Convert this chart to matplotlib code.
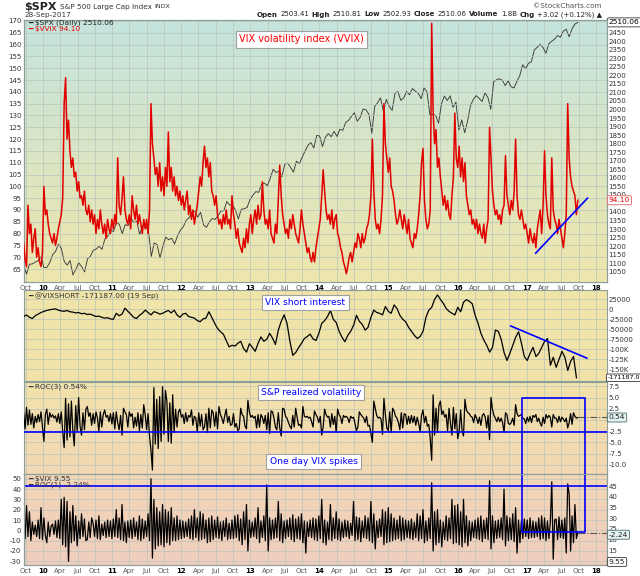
import numpy as np
import matplotlib.pyplot as plt
from matplotlib.transforms import blended_transform_factory as blend

plt.rcParams['axes.unicode_minus'] = False

# ---- data (Oct 2009 .. Sep 2017) ----
# $VVIX, about weekly (4 per month)
vvix = [
    76, 69, 66, 92,  80, 84, 72, 78,  82, 70, 74, 68,            # 2009 Q4
    66, 72, 100, 88,  90, 84, 80, 78,  76, 80, 75, 78,           # 2010
    82, 85, 88, 95,  135, 146, 120, 128,  115, 108, 112, 104,
    106, 98, 102, 95,  96, 92, 98, 90,  88, 92, 85, 90,
    84, 88, 80, 86,  82, 90, 84, 80,  84, 78, 86, 82,
    80, 86, 82, 88,  84, 112, 92, 88,  95, 104, 90, 86,          # 2011
    84, 88, 82, 96,  90, 86, 92, 84,  88, 84, 80, 86,
    82, 86, 80, 90,  135, 118, 112, 105,  108, 100, 110, 98,
    104, 96, 108, 100,  123, 102, 108, 98,  104, 96, 100, 94,
    98, 92, 96, 90,  94, 98, 88, 92,  86, 90, 84, 88,            # 2012
    92, 98, 104, 100,  110, 117, 108, 112,  104, 110, 98, 96,
    92, 96, 88, 84,  86, 82, 88, 84,  90, 84, 86, 82,
    96, 88, 84, 78,  82, 76, 74, 72,  78, 74, 82, 76,
    84, 88, 80, 86,  90, 84, 92, 86,  88, 102, 90, 84,           # 2013
    86, 82, 90, 80,  78, 76, 84, 80,  94, 109, 96, 88,
    84, 80, 82, 78,  86, 82, 88, 84,  80, 78, 76, 82,
    90, 84, 80, 76,  72, 74, 70, 68,  72, 68, 74, 78,
    82, 86, 96, 107,  98, 90, 86, 88,  84, 90, 82, 86,           # 2014
    88, 80, 78, 74,  72, 68, 66, 63,  66, 70, 72, 68,
    72, 76, 74, 80,  78, 74, 80, 76,  78, 82, 84, 88,
    96, 120, 98, 86,  82, 84, 80, 86,  96, 135, 118, 112,
    106, 112, 100, 98,  94, 88, 84, 86,  90, 86, 82, 88,         # 2015
    84, 80, 86, 78,  76, 74, 80, 78,  82, 88, 96, 110,
    116, 94, 86, 82,  84, 90, 169, 132,  118, 124, 108, 112,
    104, 98, 92, 96,  90, 94, 88, 86,  96, 104, 131, 112,
    108, 117, 104, 112,  102, 110, 96, 92,  88, 90, 84, 86,      # 2016
    82, 86, 80, 84,  80, 78, 84, 76,  82, 86, 125, 112,
    98, 92, 88, 90,  86, 88, 84, 90,  92, 113, 96, 92,
    88, 94, 90, 98,  120, 96, 88, 86,  90, 86, 82, 84,
    80, 76, 82, 78,  76, 80, 74, 82,  86, 90, 80, 92,            # 2017
    115, 96, 88, 84,  82, 112, 90, 86,  84, 80, 86, 82,
    78, 74, 80, 88,  135, 112, 104, 100,  98, 96, 88, 94.10,
]

# $SPX, about twice a month
spx = [
    1090, 1036, 1094, 1096, 1106, 1115,                                  # 2009 Q4
    1137, 1074, 1075, 1104, 1150, 1169, 1212, 1187, 1110, 1089, 1116, 1031,
    1065, 1102, 1080, 1049, 1125, 1141, 1176, 1183, 1199, 1181, 1242, 1258,
    1293, 1286, 1340, 1327, 1273, 1326, 1320, 1364, 1338, 1345, 1268, 1321,
    1316, 1292, 1140, 1219, 1209, 1131, 1200, 1253, 1237, 1247, 1212, 1258,
    1293, 1312, 1351, 1366, 1395, 1408, 1370, 1398, 1324, 1310, 1342, 1362,
    1356, 1379, 1405, 1407, 1461, 1441, 1440, 1412, 1359, 1416, 1419, 1426,
    1472, 1498, 1519, 1515, 1563, 1569, 1553, 1598, 1650, 1631, 1639, 1606,
    1680, 1686, 1661, 1633, 1697, 1682, 1721, 1757, 1791, 1806, 1775, 1848,
    1845, 1783, 1838, 1859, 1841, 1872, 1842, 1884, 1878, 1924, 1937, 1960,
    1981, 1931, 1955, 2003, 1998, 1972, 1862, 2018, 2039, 2068, 1990, 2059,
    2019, 1995, 2096, 2105, 2053, 2068, 2106, 2086, 2123, 2107, 2096, 2063,
    2126, 2104, 1971, 1972, 1966, 1920, 2033, 2079, 2053, 2080, 2012, 2044,
    1880, 1940, 1864, 1932, 2022, 2060, 2081, 2065, 2047, 2097, 2071, 2001,
    2163, 2174, 2180, 2171, 2140, 2168, 2133, 2126, 2164, 2199, 2262, 2239,
    2271, 2279, 2349, 2364, 2381, 2363, 2329, 2384, 2400, 2412, 2433, 2423,
    2459, 2470, 2426, 2472, 2500, 2510.06,
]

# @VIXSHORT in thousands, about twice a month
vixshort_k = [
    -18, -14, -20, -23, -16, -12,                                        # 2009 Q4
    -8, -5, -3, -1, 0, 1, -2, -4, -5, -3, -6, -7,
    -9, -8, -11, -10, -13, -12, -15, -18, -17, -20, -22, -21,
    -24, -25, -10, -16, -12, 3, -5, -12, -20, -23, -15, -10,
    -2, -8, -14, -6, -8, -12, -10, -6, -3, -9, -2, -14,
    -20, -12, -10, -18, -20, -22, -28, -31, -24, -22, -6, -20,
    -35, -48, -56, -62, -78, -94, -90, -92, -85, -80, -98, -107,
    -86, -95, -105, -85, -69, -80, -75, -60, -72, -88, -52, -30,
    -14, -35, -80, -115, -108, -96, -85, -73, -68, -62, -74, -78,
    -60, -35, -28, -18, -3, -25, -33, -55, -70, -81, -65, -55,
    -40, -15, -30, -38, -52, -45, -20, -2, -8, -10, -14, 7,
    -5, -10, 11, 2, -15, -25, -31, -45, -55, -65, -73, -68,
    -55, -20, -2, 5, 25, 36, 25, 15, 2, -5, -10, -14,
    5, -6, 18, 24, 20, 14, -15, -35, -60, -77, -90, -107,
    -95, -52, -55, -75, -108, -128, -110, -90, -70, -56, -85, -118,
    -128, -110, -95, -118, -110, -95, -80, -73, -140, -120, -145, -125,
    -105, -120, -153, -130, -118, -171.187,
]

# ROC(3) of $SPX, about weekly
roc3 = [
    1.5, -2.0, 2.8, -1.2,  2.2, -1.0, 1.4, -1.8,  0.8, -0.6, 1.2, -0.4,
    1.8, -1.5, -4.8, 1.2,  2.4, -1.0, 1.6, 0.6,  1.2, 0.4, 0.9, -0.5,
    1.4, -0.8, 1.8, -2.6,  -6.2, 4.8, -4.5, 3.6,  -3.8, 4.2, -2.4, -5.8,
    3.2, -2.6, 5.0, -1.4,  -3.4, 1.6, -2.2, 2.4,  3.0, 0.8, 1.6, -1.2,
    1.4, -0.8, 1.8, 0.4,  -2.6, 1.8, -1.6, 1.2,  2.2, 0.6, 1.0, -0.4,
    1.4, -0.9, 1.6, -2.0,  1.8, -0.6, -2.2, 1.0,  -3.4, 2.6, 1.8, 1.2,
    -1.6, 1.8, 0.8, 1.4,  -1.8, 0.6, -1.4, 1.6,  -2.4, 1.2, -1.8, 3.4,
    1.2, -2.2, 1.4, -3.6,  -6.8, -11.2, 7.2, -5.4,  4.6, -6.4, 5.2, -4.8,
    7.4, -3.2, 6.6, 4.2,  -4.8, 3.8, -5.2, 5.6,  -2.8, 2.4, -1.6, 1.8,
    2.4, 0.6, 1.2, -0.8,  1.6, -0.4, 1.0, 0.6,  2.2, -1.2, 0.8, 0.4,
    -2.6, 1.6, -1.4, 1.2,  -2.2, -1.6, 1.4, -2.8,  2.6, -1.8, 2.2, 1.6,
    -1.4, 1.8, -2.0, 3.0,  1.2, 0.4, -0.8, 1.0,  2.4, -0.6, 0.8, -1.2,
    -1.0, 1.4, -1.6, -0.8,  -2.4, -2.0, 2.6, 1.2,  0.8, -1.4, -2.0, 4.4,
    1.8, 0.6, 1.0, 0.4,  0.8, -1.8, 1.2, -1.6,  1.2, 0.6, -0.8, 1.0,
    -2.2, 1.6, -3.0, 2.0,  1.8, 0.4, -1.6, -2.2,  1.6, -1.8, -3.6, 2.6,
    2.4, 0.8, 0.4, -0.6,  -1.4, -2.0, 1.0, -1.6,  2.6, 0.6, -1.2, -1.0,
    -1.8, 3.0, 0.8, 0.6,  0.8, 0.4, 0.6, -0.4,  -1.6, 2.0, 1.2, 0.6,
    -0.6, 0.8, -3.4, -1.6,  2.4, 1.2, 0.6, 0.8,  -1.6, 1.4, -1.0, 0.8,
    -2.8, 2.4, 1.2, 0.6,  -0.8, 1.0, 0.6, 0.8,  0.4, -0.6, 0.8, 0.4,
    0.6, -0.8, -2.4, -1.6,  1.8, 1.2, 0.8, 0.4,  -0.6, 0.8, -1.4, -1.2,
    -3.0, -5.0, 4.2, 2.6,  1.0, 0.4, 0.6, 0.2,  -3.2, 4.8, 1.2, -1.8,
    -2.4, 1.8, -2.8, 2.6,  2.0, 0.8, 0.4, -0.6,  -2.2, 1.6, -1.8, 1.4,
    1.2, -1.0, 0.8, -0.8,  1.0, -0.6, 0.8, -1.2,  0.6, -0.8, -2.6, 1.0,
    2.2, -0.6, 0.8, -1.4,  -1.0, -4.2, -9.0, 5.6,  -3.4, 2.6, -2.8, 3.2,
    4.2, 1.2, 2.0, 0.6,  1.2, -2.4, 2.6, -0.8,  -3.4, 2.8, -2.0, 1.4,
    -4.2, -2.6, 2.2, -2.4,  -3.6, 4.6, 2.2, 1.6,  1.4, 0.8, 0.6, -0.6,
    1.2, 0.4, -0.8, 0.6,  -1.2, 1.0, 1.4, 0.6,  -1.8, 1.0, -4.4, 5.0,
    2.4, 1.0, 0.4, -0.4,  0.6, -0.4, 0.4, -0.6,  -2.8, 1.6, 1.2, -0.8,
    -1.0, -0.6, 0.4, -1.2,  3.4, 1.4, 0.8, 1.0,  1.2, 0.4, 0.2, -0.8,
    0.6, -0.4, 0.8, -0.6,  1.0, 0.6, 1.2, -0.4,  0.4, -0.8, -1.4, 0.6,
    -0.8, 1.2, 0.4, 1.0,  0.6, -1.6, 1.2, 0.4,  0.4, -0.6, 0.8, -0.4,
    0.6, 0.2, -0.4, 0.4,  -1.8, -0.6, 1.4, -1.0,  1.6, 0.8, 0.4, 0.54,
]

# ROC(1) of $VIX, about weekly
roc1 = [
    6, -8, 24, -6,  18, -10, 8, -4,  5, -6, 10, -8,
    22, -9, 12, -5,  -12, 8, -6, 4,  6, -4, 9, -7,
    10, -8, 30, -14,  32, -16, 28, -30,  18, -12, 24, -10,
    14, -15, 9, -8,  16, -6, 11, -10,  -9, 8, -7, 12,
    7, -6, 10, -8,  14, -9, 6, -5,  8, -7, 10, -6,
    9, -8, 11, -6,  20, -7, 12, -9,  25, -10, 8, -12,
    9, -7, 10, -8,  12, -6, 8, -9,  14, -10, 11, -8,
    9, -6, 16, -10,  50, -27, 30, -18,  22, -15, 18, -14,
    25, -16, 20, -12,  18, -14, 22, -10,  12, -10, 14, -9,
    10, -8, 9, -7,  8, -6, 11, -8,  14, -9, 20, -7,
    12, -10, 18, -9,  16, -8, 10, -12,  12, -11, 14, -9,
    10, -7, 13, -8,  8, -10, 9, -6,  12, -9, 7, -8,
    10, -8, 14, -7,  15, -10, 11, -14,  18, -9, 25, -20,
    10, -7, 8, -6,  12, -8, 22, -12,  9, -7, 14, -10,
    44, -20, 12, -9,  10, -8, 12, -7,  28, -10, 16, -12,
    9, -8, 10, -6,  12, -9, 15, -11,  11, -8, 13, -9,
    16, -12, 9, -22,  8, -6, 10, -7,  12, -9, 11, -10,
    14, -8, 30, -12,  10, -14, 8, -9,  25, -10, 12, -8,
    18, -9, 11, -10,  8, -7, 10, -6,  9, -8, 7, -5,
    28, -10, 13, -9,  12, -11, 9, -7,  14, -8, 12, -10,
    28, -12, 16, -18,  9, -7, 11, -6,  20, -14, 18, -12,
    22, -11, 16, -10,  12, -9, 10, -8,  14, -10, 12, -9,
    10, -7, 9, -8,  11, -9, 8, -7,  16, -10, 14, -8,
    20, -12, 9, -10,  12, -8, 46, -20,  18, -14, 20, -12,
    10, -16, 8, -9,  14, -10, 12, -8,  30, -13, 24, -12,
    25, -14, 18, -16,  30, -12, 14, -15,  9, -10, 8, -7,
    10, -8, 12, -9,  14, -11, 10, -8,  12, -9, 48, -18,
    14, -12, 9, -8,  10, -7, 12, -9,  40, -15, 14, -10,
    12, -9, 16, -11,  22, -22, 10, -12,  9, -8, 11, -6,
    10, -8, 12, -7,  9, -7, 8, -6,  12, -9, 14, -8,
    12, -10, 9, -8,  8, 47, -28, 10,  11, -9, 13, -7,
    10, -8, 12, -22,  45, 35, -20, 14,  -12, 25, -8, -2.24,
]

vix_last = 9.55

# hand drawn annotations
vvix_trend_dates = [2017.13, 2017.88]
vvix_trend_vals = [71.7, 95.0]
short_trend_dates = [2016.77, 2017.87]
short_trend_vals = [-41700, -122000]
roc3_level = -2.75
roc1_level = 42.6
box_dates = [2016.93, 2017.84]
box_top_roc3 = 5.0
box_bottom_roc1 = -1.6

first_date, last_date = 2009.72, 2017.74
x_min, x_max = 2009.718, 2018.155

t_week = np.linspace(first_date, last_date, len(vvix))
t_half = np.linspace(first_date, last_date, len(spx))
t_short = np.linspace(first_date, 2017.72, len(vixshort_k))
vixshort = np.array(vixshort_k) * 1000

W, H = 640, 576
fig = plt.figure(figsize=(6.4, 5.76), dpi=100)
fig.patch.set_facecolor('white')

L, WD = 23.5 / W, 583 / W


def box(top, bottom):
    return [L, 1 - bottom / H, WD, (bottom - top) / H]


ax1r = fig.add_axes(box(20, 282))
ax1 = ax1r.twinx()
ax2 = fig.add_axes(box(290, 380.7))
ax3 = fig.add_axes(box(382, 474.3))
ax4 = fig.add_axes(box(474.3, 565))
ax4r = ax4.twinx()


def paint(ax, top, bottom):
    top = np.array(top) / 255
    bottom = np.array(bottom) / 255
    f = np.linspace(0, 1, 64)[:, None, None]
    img = top * (1 - f) + bottom * f
    ax.imshow(img, extent=(0, 1, 0, 1), transform=ax.transAxes,
              aspect='auto', zorder=0, interpolation='bilinear')


paint(ax1r, (196, 228, 222), (238, 230, 172))
paint(ax2, (240, 229, 168), (240, 226, 170))
paint(ax3, (242, 226, 170), (242, 216, 180))
paint(ax4, (242, 214, 182), (240, 205, 190))

# ---- panel 1: VVIX + SPX ----
ax1.set_zorder(ax1r.get_zorder() + 1)
ax1.patch.set_visible(False)
ax1r.plot(t_half, spx, color='#3a3a3a', lw=0.65, zorder=3)
ax1.plot(t_week, vvix, color='#e10000', lw=1.1, zorder=3)
ax1.plot(vvix_trend_dates, vvix_trend_vals, color='#0000ff', lw=1.2, zorder=4)
ax1.set_ylim(59.5, 170.4)
ax1r.set_ylim(990, 2524)

# ---- panel 2: VIX short interest ----
ax2.plot(t_short, vixshort, color='black', lw=0.9, zorder=3)
ax2.plot(short_trend_dates, short_trend_vals, color='#0000ff', lw=1.2, zorder=4)
ax2.set_ylim(-178500, 48300)

# ---- panel 3: ROC(3) ----
ax3.plot(t_week, roc3, color='black', lw=0.9, zorder=3)
ax3.axhline(roc3_level, color='#0000ff', lw=1.2, zorder=4)
ax3.plot([t_week[-1], x_max], [roc3[-1], roc3[-1]], color='#555555', lw=0.8, ls='-.', zorder=3)
ax3.set_ylim(-12.14, 8.46)

# ---- panel 4: ROC(1) of VIX ----
ax4.plot(t_week, roc1, color='black', lw=0.9, zorder=3)
ax4.axhline(roc1_level, color='#0000ff', lw=1.2, zorder=4)
ax4.plot([t_week[-1], x_max], [roc1[-1], roc1[-1]], color='#555555', lw=0.8, ls='-.', zorder=3)
ax4.set_ylim(-33.6, 54.3)
ax4r.set_ylim(8.1, 50.6)

# blue rectangle spanning panels 3 and 4
x0, x1 = box_dates
lo3 = ax3.get_ylim()[0]
hi4 = ax4.get_ylim()[1]
ax3.plot([x0, x0, x1, x1], [lo3, box_top_roc3, box_top_roc3, lo3],
         color='#0000ff', lw=1.2, zorder=5, clip_on=False)
ax4.plot([x0, x0, x1, x1], [hi4, box_bottom_roc1, box_bottom_roc1, hi4],
         color='#0000ff', lw=1.2, zorder=5, clip_on=False)

# ---- axes styling ----
quarters = np.arange(2009.75, 2018.01, 0.25)
month_names = {0.0: None, 0.25: 'Apr', 0.5: 'Jul', 0.75: 'Oct'}
qlabels = []
for q in quarters:
    frac = round(q - np.floor(q), 2)
    qlabels.append(month_names[frac] or '%02d' % (int(round(q)) % 100))

grid_kw = dict(color='#b9c4bc', lw=0.5)
for ax in (ax1r, ax1, ax2, ax3, ax4, ax4r):
    ax.set_xlim(x_min, x_max)
    ax.tick_params(length=0, labelsize=5, colors='#333333', pad=1.5)
    for s in ax.spines.values():
        s.set_color('#8e9e9a')
        s.set_linewidth(0.8)

for ax in (ax1r, ax2, ax3, ax4):
    ax.set_xticks(quarters)
    ax.grid(True, axis='x', zorder=1, **grid_kw)
for ax in (ax1, ax2, ax3, ax4):
    ax.grid(True, axis='y', zorder=1, **grid_kw)
    ax.set_axisbelow(True)

for ax in (ax1r, ax4):
    ax.set_xticklabels(qlabels)
    ax.tick_params(axis='x', pad=2.5)
    for lab, txt in zip(ax.get_xticklabels(), qlabels):
        if txt.isdigit():
            lab.set_fontweight('bold')
            lab.set_color('black')
        else:
            lab.set_color('#555555')
for ax in (ax2, ax3):
    ax.tick_params(axis='x', labelbottom=False)

# y ticks
ax1.yaxis.tick_left()
ax1.set_yticks(np.arange(65, 171, 5))
spx_ticks = np.arange(1050, 2451, 50)
ax1r.yaxis.tick_right()
ax1r.set_yticks(spx_ticks)
# 1450 sits under the VVIX last-value tag
ax1r.set_yticklabels(['' if v == 1450 else str(v) for v in spx_ticks])

short_ticks = [25000, 0, -25000, -50000, -75000, -100000, -125000, -150000]
ax2.yaxis.tick_right()
ax2.set_yticks(short_ticks)
ax2.set_yticklabels(['25000', '0', '-25000', '-50000', '-75000', '-100K', '-125K', '-150K'])

roc3_ticks = [7.5, 5.0, 2.5, 0.0, -2.5, -5.0, -7.5, -10.0]
ax3.yaxis.tick_right()
ax3.set_yticks(roc3_ticks)
# the 0.0 label sits under the last-value tag
ax3.set_yticklabels(['' if v == 0 else '%.1f' % v for v in roc3_ticks])

ax4.yaxis.tick_left()
ax4.set_yticks(np.arange(-30, 51, 10))
ax4r.yaxis.tick_right()
ax4r.set_yticks(np.arange(15, 46, 5))

# ---- in-panel legends ----
fs = 5.3
ax1.text(0.008, 0.988, '\u2501 $SPX (Daily) 2510.06', transform=ax1.transAxes,
         fontsize=fs, color='#222222', va='center', zorder=6)
ax1.text(0.008, 0.964, '\u2501 $VVIX 94.10', transform=ax1.transAxes,
         fontsize=fs, color='#e10000', va='center', zorder=6)
ax2.text(0.008, 0.934, '\u2501 @VIXSHORT -171187.00 (19 Sep)', transform=ax2.transAxes,
         fontsize=fs, color='#333333', va='center', zorder=6)
ax3.text(0.008, 0.946, '\u2501 ROC(3) 0.54%', transform=ax3.transAxes,
         fontsize=fs, color='#333333', va='center', zorder=6)
ax4.text(0.008, 0.95, '\u2501 $VIX 9.55', transform=ax4.transAxes,
         fontsize=fs, color='#333333', va='center', zorder=6)
ax4.text(0.008, 0.88, '\u2501 ROC(1) -2.24%', transform=ax4.transAxes,
         fontsize=fs, color='#333333', va='center', zorder=6)

# ---- annotation boxes ----
note_box = dict(boxstyle='square,pad=0.35', fc='white', ec='#a0a0a0', lw=0.8)
ax1.text(0.370, 0.927, 'VIX volatility index (VVIX)', transform=ax1.transAxes,
         fontsize=7, color='#ff0000', va='center', bbox=note_box, zorder=7)
ax2.text(0.415, 0.862, 'VIX short interest', transform=ax2.transAxes,
         fontsize=6.6, color='#0000ff', va='center', bbox=note_box, zorder=7)
ax3.text(0.407, 0.885, 'S&P realized volatility', transform=ax3.transAxes,
         fontsize=6.6, color='#0000ff', va='center', bbox=note_box, zorder=7)
ax3.text(0.422, 0.14, 'One day VIX spikes', transform=ax3.transAxes,
         fontsize=6.6, color='#0000ff', va='center', bbox=note_box, zorder=7)


# ---- last value tags on the right ----
def tag(ax, data_ax, y, s, color='#222222', ec='#4a6a6a', fc='#e4f2f2', dy=0, size=5.4, x=1.004):
    ax.annotate(s, xy=(x, y), xycoords=blend(ax.transAxes, data_ax.transData),
                xytext=(0, dy), textcoords='offset points', fontsize=size,
                color=color, va='center', ha='left', annotation_clip=False, zorder=8,
                bbox=dict(boxstyle='round,pad=0.2', fc=fc, ec=ec, lw=0.6))


tag(ax1r, ax1r, spx[-1], '2510.06', color='black', fc='white', ec='#333333')
tag(ax1, ax1, vvix[-1], '94.10', color='#e10000', fc='white', ec='#e06060')
tag(ax2, ax2, vixshort[-1], '-171187.0', color='black', fc='white', ec='#333333',
    size=4.6, x=1.002)
tag(ax3, ax3, roc3[-1], '0.54')
tag(ax4r, ax4, roc1[-1], '-2.24', dy=-1.5)
tag(ax4r, ax4r, vix_last, '9.55', fc='white', ec='#333333')

# ---- header ----
renderer = fig.canvas.get_renderer()


def run(x, y, parts, gap=3.0):
    for s, size, w, c in parts:
        t = fig.text(x / W, 1 - y / H, s, fontsize=size, fontweight=w, color=c, va='center')
        x += t.get_window_extent(renderer).width + gap
    return x


run(24, 6.5, [('$SPX', 8, 'bold', '#222222'),
              ('S&P 500 Large Cap Index', 5.2, 'normal', '#333333'),
              ('INDX', 4.5, 'normal', '#333333')])
fig.text(24 / W, 1 - 14.5 / H, '28-Sep-2017', fontsize=5.2, color='#333333', va='center')
fig.text(602 / W, 1 - 6.5 / H, '\u00a9StockCharts.com', fontsize=5.2, color='#555555',
         va='center', ha='right')

bar = [('Open', 'bold'), ('2503.41', 'normal'), ('High', 'bold'), ('2510.81', 'normal'),
       ('Low', 'bold'), ('2502.93', 'normal'), ('Close', 'bold'), ('2510.06', 'normal'),
       ('Volume', 'bold'), ('1.8B', 'normal'), ('Chg', 'bold'),
       ('+3.02 (+0.12%) \u25b2', 'normal')]
bar_parts = [(s, 5.0, w, '#222222') for s, w in bar]
# measure first, then right-align the run at x = 602 px
probe = [fig.text(0, 0, s, fontsize=sz, fontweight=w) for s, sz, w, c in bar_parts]
total = sum(p.get_window_extent(renderer).width for p in probe) + 2.5 * (len(probe) - 1)
for p in probe:
    p.remove()
run(602 - total, 14.5, bar_parts, gap=2.5)

fig.savefig('out.png', dpi=100, facecolor='white')
